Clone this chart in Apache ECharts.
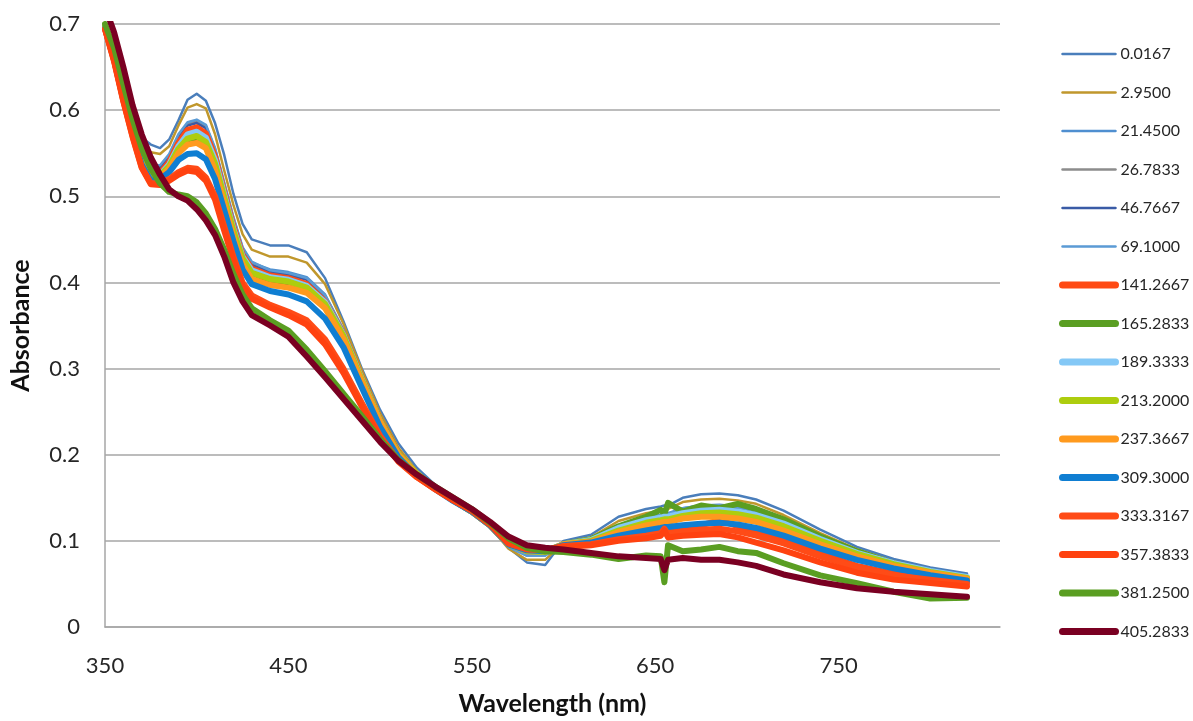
<!DOCTYPE html>
<html>
<head>
<meta charset="utf-8">
<script src="https://cdn.jsdelivr.net/npm/echarts@6/dist/echarts.min.js"></script>
<style>
  html, body { margin: 0; padding: 0; background: #fff; }
  #chart { width: 1193px; height: 721px; }
</style>
</head>
<body>
<div id="chart"></div>
<script>
// wavelength (nm) shared by all spectra
var wavelengths = [350,355,360,365,370,375,380,385,390,395,400,405,410,415,420,425,430,
  440,450,460,470,480,490,500,510,520,530,540,550,560,570,580,590,600,
  615,630,645,653,655,657,665,675,685,695,705,720,740,760,780,800,820];

var seriesNames = ['0.0167','2.9500','21.4500','26.7833','46.7667','69.1000','141.2667','165.2833',
  '189.3333','213.2000','237.3667','309.3000','333.3167','357.3833','381.2500','405.2833'];

var seriesColors = ['#4A7EBB','#C0972C','#4F8FD0','#8C8C8C','#3A5BA6','#5B9BD5','#FF4A14','#5A9E22',
  '#84C8F6','#ADCD0E','#FF9A1E','#0F7ED2','#FF4B17','#FF4210','#5A9E22','#7A0022'];

var seriesWidths = [2.5,2.5,2.5,2.5,2.5,2.5,6,6,6,6,6,6,6,6,6,6];

// absorbance values, one array per time point
var abs0 = [0.702,0.668,0.628,0.592,0.568,0.560,0.556,0.566,0.588,0.612,0.619,0.611,0.585,0.548,0.503,0.468,0.450,
  0.443,0.443,0.435,0.405,0.355,0.300,0.252,0.213,0.185,0.165,0.150,0.135,0.118,0.092,0.075,0.072,0.100,
  0.107,0.128,0.137,0.140,0.141,0.141,0.150,0.154,0.155,0.153,0.148,0.135,0.113,0.093,0.079,0.069,0.062];
var abs1 = [0.700,0.666,0.626,0.590,0.560,0.551,0.549,0.558,0.582,0.603,0.607,0.602,0.572,0.530,0.490,0.456,0.438,
  0.430,0.430,0.423,0.398,0.352,0.298,0.248,0.208,0.181,0.163,0.148,0.134,0.116,0.091,0.078,0.078,0.098,
  0.104,0.123,0.132,0.135,0.136,0.137,0.145,0.148,0.149,0.147,0.143,0.130,0.109,0.090,0.076,0.066,0.058];
var abs2 = [0.698,0.664,0.622,0.585,0.553,0.535,0.535,0.548,0.570,0.585,0.588,0.582,0.555,0.515,0.475,0.440,0.423,
  0.415,0.412,0.406,0.386,0.345,0.293,0.244,0.204,0.179,0.162,0.147,0.134,0.117,0.093,0.083,0.083,0.097,
  0.102,0.118,0.127,0.130,0.131,0.132,0.138,0.141,0.142,0.140,0.136,0.124,0.105,0.088,0.075,0.066,0.059];
var abs3 = [0.698,0.663,0.621,0.584,0.552,0.534,0.534,0.546,0.568,0.583,0.586,0.580,0.553,0.513,0.473,0.438,0.421,
  0.413,0.410,0.404,0.384,0.344,0.292,0.244,0.204,0.179,0.162,0.147,0.134,0.117,0.094,0.084,0.084,0.097,
  0.101,0.117,0.126,0.129,0.130,0.131,0.137,0.140,0.141,0.139,0.135,0.123,0.104,0.087,0.074,0.065,0.058];
var abs4 = [0.698,0.663,0.620,0.583,0.551,0.533,0.533,0.545,0.567,0.582,0.585,0.579,0.552,0.512,0.472,0.437,0.420,
  0.412,0.409,0.403,0.383,0.343,0.291,0.243,0.204,0.179,0.162,0.147,0.134,0.117,0.094,0.084,0.084,0.097,
  0.101,0.117,0.126,0.129,0.130,0.130,0.137,0.140,0.140,0.138,0.134,0.122,0.104,0.087,0.074,0.065,0.058];
var abs5 = [0.698,0.664,0.622,0.585,0.554,0.536,0.536,0.549,0.572,0.586,0.589,0.583,0.556,0.516,0.476,0.441,0.424,
  0.414,0.411,0.405,0.385,0.345,0.293,0.244,0.204,0.179,0.162,0.147,0.134,0.117,0.093,0.083,0.083,0.097,
  0.101,0.118,0.127,0.130,0.131,0.131,0.138,0.141,0.141,0.139,0.135,0.123,0.105,0.088,0.075,0.066,0.059];
var abs6 = [0.696,0.660,0.615,0.575,0.540,0.522,0.527,0.540,0.562,0.577,0.580,0.573,0.546,0.505,0.465,0.432,0.416,
  0.408,0.405,0.398,0.378,0.340,0.289,0.240,0.202,0.178,0.161,0.147,0.134,0.118,0.096,0.088,0.087,0.095,
  0.098,0.107,0.112,0.114,0.117,0.112,0.116,0.118,0.124,0.117,0.110,0.100,0.085,0.071,0.062,0.056,0.052];
var abs7 = [0.697,0.661,0.616,0.576,0.540,0.521,0.523,0.534,0.553,0.564,0.567,0.560,0.535,0.497,0.458,0.426,0.411,
  0.403,0.400,0.393,0.374,0.337,0.287,0.239,0.201,0.178,0.161,0.147,0.134,0.118,0.096,0.089,0.088,0.096,
  0.102,0.117,0.128,0.136,0.131,0.144,0.134,0.141,0.138,0.143,0.137,0.125,0.105,0.088,0.074,0.064,0.055];
var abs8 = [0.696,0.660,0.615,0.575,0.540,0.522,0.525,0.537,0.558,0.572,0.575,0.568,0.542,0.502,0.462,0.430,0.414,
  0.406,0.403,0.396,0.377,0.339,0.288,0.239,0.201,0.178,0.161,0.147,0.134,0.118,0.096,0.088,0.087,0.096,
  0.101,0.115,0.124,0.127,0.128,0.128,0.132,0.135,0.136,0.134,0.130,0.120,0.102,0.086,0.074,0.065,0.058];
var abs9 = [0.696,0.659,0.614,0.574,0.539,0.520,0.524,0.535,0.555,0.567,0.570,0.563,0.538,0.499,0.460,0.428,0.411,
  0.404,0.401,0.394,0.375,0.338,0.287,0.239,0.201,0.178,0.161,0.147,0.134,0.118,0.096,0.088,0.087,0.096,
  0.100,0.112,0.121,0.124,0.125,0.125,0.129,0.132,0.133,0.131,0.127,0.117,0.100,0.085,0.073,0.064,0.057];
var abs10 = [0.695,0.658,0.613,0.573,0.538,0.519,0.522,0.532,0.550,0.560,0.562,0.556,0.530,0.492,0.453,0.421,0.404,
  0.397,0.394,0.388,0.370,0.334,0.285,0.238,0.200,0.177,0.161,0.147,0.134,0.118,0.096,0.089,0.088,0.096,
  0.099,0.110,0.118,0.121,0.122,0.122,0.126,0.128,0.128,0.126,0.122,0.112,0.096,0.082,0.071,0.063,0.056];
var abs11 = [0.695,0.658,0.612,0.572,0.537,0.518,0.520,0.528,0.542,0.549,0.550,0.543,0.520,0.484,0.448,0.415,0.398,
  0.390,0.386,0.378,0.358,0.325,0.278,0.232,0.197,0.175,0.160,0.146,0.134,0.118,0.096,0.089,0.088,0.095,
  0.098,0.106,0.112,0.115,0.116,0.116,0.118,0.120,0.121,0.119,0.115,0.106,0.091,0.078,0.068,0.060,0.054];
var abs12 = [0.694,0.657,0.611,0.570,0.534,0.515,0.515,0.520,0.528,0.533,0.532,0.522,0.500,0.465,0.430,0.400,0.385,
  0.374,0.366,0.356,0.334,0.300,0.260,0.222,0.193,0.174,0.160,0.147,0.135,0.119,0.097,0.090,0.089,0.094,
  0.096,0.102,0.106,0.109,0.114,0.108,0.111,0.113,0.114,0.111,0.106,0.097,0.082,0.069,0.060,0.055,0.050];
var abs13 = [0.694,0.656,0.610,0.569,0.533,0.514,0.513,0.518,0.525,0.530,0.528,0.518,0.496,0.460,0.426,0.396,0.381,
  0.371,0.362,0.351,0.328,0.295,0.256,0.220,0.192,0.174,0.160,0.147,0.135,0.119,0.097,0.091,0.090,0.093,
  0.095,0.100,0.103,0.106,0.112,0.104,0.106,0.107,0.108,0.104,0.098,0.089,0.075,0.063,0.055,0.051,0.047];
var abs14 = [0.700,0.672,0.630,0.590,0.556,0.532,0.515,0.505,0.502,0.500,0.493,0.480,0.462,0.438,0.410,0.386,0.370,
  0.356,0.344,0.322,0.297,0.271,0.245,0.218,0.194,0.177,0.163,0.150,0.137,0.121,0.103,0.092,0.088,0.087,
  0.084,0.079,0.083,0.082,0.052,0.095,0.088,0.090,0.093,0.088,0.086,0.074,0.060,0.051,0.041,0.033,0.034];
var abs15 = [0.720,0.690,0.650,0.606,0.572,0.545,0.525,0.508,0.500,0.495,0.485,0.472,0.455,0.430,0.400,0.378,0.362,
  0.350,0.337,0.314,0.290,0.265,0.240,0.215,0.193,0.177,0.163,0.150,0.137,0.122,0.105,0.095,0.092,0.090,
  0.086,0.082,0.080,0.079,0.066,0.078,0.080,0.078,0.078,0.075,0.071,0.061,0.052,0.045,0.041,0.038,0.035];

var allAbs = [abs0,abs1,abs2,abs3,abs4,abs5,abs6,abs7,abs8,abs9,abs10,abs11,abs12,abs13,abs14,abs15];

var xTicks = { min: 350, max: 838, step: 100 };
var yTicks = { min: 0, max: 0.7, step: 0.1 };

var textColor = '#262626';
var gridColor = '#A6A6A6';
var fontName = 'Lato';

var series = [];
var legendData = [];
for (var i = 0; i < allAbs.length; i++) {
  var pts = [];
  for (var j = 0; j < wavelengths.length; j++) {
    pts.push([wavelengths[j], allAbs[i][j]]);
  }
  series.push({
    name: seriesNames[i],
    type: 'line',
    data: pts,
    symbol: 'none',
    clip: true,
    lineStyle: { color: seriesColors[i], width: seriesWidths[i], join: 'round', cap: 'round' },
    itemStyle: { color: seriesColors[i] }
  });
  // legend swatch: plain line, no marker
  legendData.push({
    name: seriesNames[i],
    itemStyle: { opacity: 0 },
    lineStyle: { width: seriesWidths[i] < 3 ? 2.5 : 7, color: seriesColors[i], cap: 'round' }
  });
}

var chart = echarts.init(document.getElementById('chart'), null, { renderer: 'canvas' });
chart.setOption({
  backgroundColor: '#fff',
  animation: false,
  grid: { left: 103, right: 193, top: 24, bottom: 94 },
  legend: {
    orient: 'vertical',
    left: 1059,
    top: 46,
    padding: 0,
    itemWidth: 53,
    itemHeight: 14,
    itemGap: 22.5,
    data: legendData,
    textStyle: { fontFamily: fontName, fontSize: 16, color: textColor }
  },
  xAxis: {
    type: 'value',
    min: xTicks.min,
    max: xTicks.max,
    interval: xTicks.step,
    name: 'Wavelength (nm)',
    nameLocation: 'middle',
    nameGap: 64,
    nameTextStyle: { fontFamily: fontName, fontSize: 25, fontWeight: 'bold', color: '#111' },
    axisLine: { show: true, lineStyle: { color: gridColor, width: 1.5 } },
    axisTick: { show: false },
    splitLine: { show: false },
    axisLabel: { showMaxLabel: false, margin: 28, fontFamily: fontName, fontSize: 22, color: textColor }
  },
  yAxis: {
    type: 'value',
    min: yTicks.min,
    max: yTicks.max,
    interval: yTicks.step,
    name: 'Absorbance',
    nameLocation: 'middle',
    nameGap: 72,
    nameTextStyle: { fontFamily: fontName, fontSize: 25, fontWeight: 'bold', color: '#111' },
    axisLine: { show: true, lineStyle: { color: gridColor, width: 1.5 } },
    axisTick: { show: false },
    splitLine: { show: true, lineStyle: { color: gridColor, width: 1.5 } },
    axisLabel: {
      margin: 25, fontFamily: fontName, fontSize: 22, color: textColor,
      formatter: function (v) { return v === 0 ? '0' : v.toFixed(1); }
    }
  },
  series: series
});
</script>
</body>
</html>
